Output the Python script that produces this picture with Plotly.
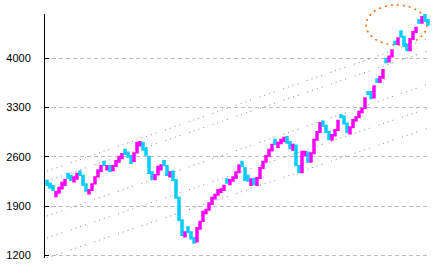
import plotly.graph_objects as go

# weekly candles (index 0 = leftmost candle)
closes = [
    2200, 2160, 2130, 2100, 2160, 2230, 2270, 2300, 2270, 2310,
    2360, 2340, 2200, 2120, 2130, 2210, 2310, 2410, 2470, 2480,
    2470, 2400, 2470, 2540, 2600, 2640, 2640, 2600, 2510, 2650,
    2800, 2810, 2700, 2630, 2370, 2290, 2340, 2460, 2480, 2480,
    2340, 2380, 2270, 2020, 1700, 1490, 1530, 1530, 1440, 1380,
    1590, 1680, 1820, 1850, 1940, 2020, 2060, 2130, 2140, 2190,
    2230, 2270, 2310, 2380, 2480, 2470, 2270, 2260, 2280, 2210,
    2300, 2440, 2530, 2610, 2700, 2770, 2780, 2800, 2840, 2870,
    2800, 2720, 2770, 2480, 2380, 2670, 2670, 2530, 2650, 2840,
    2950, 3080, 3040, 2950, 2850, 2910, 2980, 3110, 3160, 3070,
    2950, 3020, 3120, 3160, 3240, 3280, 3430, 3490, 3430, 3600,
    3660, 3730, 3830, 3940, 4020, 4110, 4200, 4280, 4300, 4170,
    4110, 4270, 4370, 4430, 4500, 4580, 4530, 4470,
]
opens = [
    2260, 2220, 2190, 2040, 2090, 2150, 2200, 2360, 2330, 2250,
    2290, 2390, 2330, 2210, 2080, 2130, 2220, 2320, 2400, 2530,
    2420, 2470, 2410, 2470, 2530, 2580, 2700, 2660, 2610, 2540,
    2660, 2760, 2800, 2720, 2600, 2380, 2280, 2350, 2420, 2540,
    2470, 2320, 2390, 2270, 2020, 1700, 1470, 1600, 1530, 1450,
    1400, 1580, 1690, 1800, 1850, 1930, 2010, 2060, 2100, 2130,
    2280, 2210, 2260, 2300, 2380, 2530, 2440, 2330, 2200, 2290,
    2200, 2300, 2440, 2530, 2610, 2690, 2840, 2740, 2790, 2820,
    2880, 2810, 2700, 2760, 2470, 2380, 2620, 2660, 2530, 2650,
    2840, 2950, 3100, 3040, 2950, 2840, 2900, 2980, 3190, 3170,
    3070, 2930, 3020, 3110, 3160, 3230, 3290, 3520, 3520, 3440,
    3700, 3660, 3720, 3990, 3950, 4020, 4230, 4200, 4380, 4300,
    4190, 4110, 4270, 4370, 4540, 4500, 4610, 4540,
]

y_ticks = [1200, 1900, 2600, 3300, 4000]
y_range = [1165, 4624]

# channel lines: value at first candle, value at last candle
channel_start = [2398, 2256, 1760, 1448, 1165]
channel_end = [4276, 4100, 3628, 3287, 3004]

n = len(closes)
xs = list(range(n))
highs = [max(o, c) for o, c in zip(opens, closes)]
lows = [min(o, c) for o, c in zip(opens, closes)]

fig = go.Figure()

for s, e in zip(channel_start, channel_end):
    fig.add_trace(go.Scatter(
        x=[0, n - 1], y=[s, e], mode="lines",
        line=dict(color="#8a8a8a", width=1, dash="1px,4px,1px,4px,1px,4px,1px,9px"),
        hoverinfo="skip", showlegend=False,
    ))

fig.add_trace(go.Candlestick(
    x=xs, open=opens, high=highs, low=lows, close=closes,
    increasing=dict(fillcolor="#ff00ff", line=dict(color="#ff00ff", width=2)),
    decreasing=dict(fillcolor="#00ccff", line=dict(color="#00ccff", width=2)),
    showlegend=False,
))

fig.add_shape(
    type="circle", xref="paper", yref="paper",
    x0=0.834, x1=0.992, y0=0.873, y1=1.037,
    line=dict(color="#ff6600", width=1.5, dash="2px,4px"),
    layer="below",
)

fig.update_layout(
    width=434, height=269,
    margin=dict(l=45, r=4, t=14, b=11),
    paper_bgcolor="white", plot_bgcolor="white",
    font=dict(family="Liberation Sans", size=11, color="black"),
    showlegend=False,
)
fig.update_xaxes(
    range=[-0.67, n - 1 + 0.67], visible=False,
    rangeslider=dict(visible=False), showgrid=False, zeroline=False,
)
fig.update_yaxes(
    range=y_range, tickvals=y_ticks, ticktext=[str(v) for v in y_ticks],
    showline=True, linecolor="black", linewidth=1,
    ticks="inside", ticklen=4, tickcolor="black",
    showgrid=True, gridcolor="#bdbdbd", griddash="4px,3px", gridwidth=1,
    zeroline=False, ticklabelstandoff=11,
)

fig.write_html("out.html")
